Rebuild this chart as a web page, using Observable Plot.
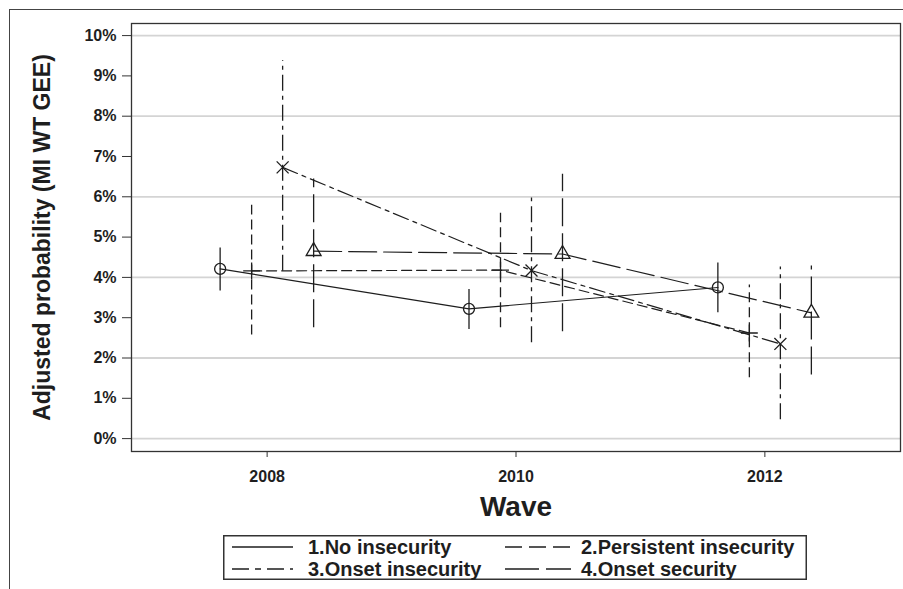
<!DOCTYPE html>
<html><head><meta charset="utf-8">
<script src="https://cdn.jsdelivr.net/npm/d3@7"></script>
<script src="https://cdn.jsdelivr.net/npm/@observablehq/plot@0.6"></script>
<style>
body{margin:0;background:#fff;}
#wrap{position:relative;width:903px;height:589px;overflow:hidden;font-family:"Liberation Sans",Arial,sans-serif;}
#outer{position:absolute;left:9px;top:9px;right:-5px;bottom:-5px;border-left:1.5px solid #444;border-top:1.5px solid #444;}
#chart{position:absolute;left:0;top:0;}
#legend{position:absolute;left:223px;top:535px;}
</style></head><body>
<div id="wrap"><div id="outer"></div><div id="chart"></div><div id="legend"></div></div>
<script>
// ---- data ----
const waves = [2008, 2010, 2012];
const groups = ["1.No insecurity", "2.Persistent insecurity", "3.Onset insecurity", "4.Onset security"];
const estimates = [
  [4.21, 3.22, 3.75],
  [4.16, 4.18, 2.62],
  [6.73, 4.17, 2.35],
  [4.65, 4.58, 3.12]
];
const lower = [
  [3.66, 2.71, 3.12],
  [2.57, 2.75, 1.51],
  [4.15, 2.38, 0.47],
  [2.75, 2.65, 1.58]
];
const upper = [
  [4.73, 3.70, 4.36],
  [5.79, 5.59, 3.81],
  [9.38, 5.97, 4.26],
  [6.44, 6.56, 4.28]
];
const yTicks = [0, 1, 2, 3, 4, 5, 6, 7, 8, 9, 10];
const gridTicks = [0, 2, 4, 6, 8, 10];
const xTicks = [2008, 2010, 2012];
const yTitle = "Adjusted probability (MI WT GEE)";
const xTitle = "Wave";

// ---- styles ----
const ink = "#1e1e1e";
const symbols = ["circle", "plus", "times", "triangle"];
const dashes = [null, "10,5", "16,5,4,5", "28,7"];
const legendDashes = [null, "17,7", "17,6,6,6", "34,7"];
const offsets = [-47, -15.5, 15.5, 46.5];

const rows = groups.map((g, i) => waves.map((w, j) => ({
  group: g, wave: w, est: estimates[i][j], lo: lower[i][j], hi: upper[i][j]
})));

const groupMarks = rows.flatMap((data, i) => [
  Plot.ruleX(data, {x: "wave", y1: "lo", y2: "hi", dx: offsets[i], stroke: ink, strokeWidth: 1.3, strokeDasharray: dashes[i]}),
  Plot.line(data, {x: "wave", y: "est", dx: offsets[i], stroke: ink, strokeWidth: 1.2, strokeDasharray: dashes[i]}),
  Plot.dot(data, {x: "wave", y: "est", dx: offsets[i], symbol: symbols[i], r: 5.5, stroke: ink, strokeWidth: 1.3, fill: "none"})
]);

const chart = Plot.plot({
  width: 903, height: 525,
  marginLeft: 131, marginRight: 3, marginTop: 23, marginBottom: 74,
  style: {fontFamily: "'Liberation Sans', Arial, sans-serif", fontWeight: "bold", color: ink, background: "transparent", overflow: "visible"},
  x: {domain: [2006.91, 2013.09]},
  y: {domain: [-0.32, 10.3]},
  marks: [
    Plot.gridY(gridTicks, {stroke: "#d4d4d4", strokeOpacity: 1, strokeWidth: 1.8}),
    Plot.frame({stroke: "#333", strokeWidth: 1.3}),
    Plot.axisY(yTicks, {tickFormat: d => d + "%", tickSize: 9, tickPadding: 6, fontSize: 16, label: null, stroke: "#333"}),
    Plot.axisX(xTicks, {tickFormat: d => String(d), tickSize: 6, tickPadding: 13, fontSize: 16, label: null, stroke: "#333"}),
    ...groupMarks,
    Plot.text([yTitle], {frameAnchor: "left", dx: -89, rotate: -90, textAnchor: "middle", lineAnchor: "middle", fontSize: 23, fontWeight: "bold", fill: ink}),
    Plot.text([xTitle], {frameAnchor: "bottom", dy: 56, textAnchor: "middle", lineAnchor: "middle", fontSize: 28, fontWeight: "bold", fill: ink})
  ]
});
document.getElementById("chart").appendChild(chart);

// ---- legend ----
const ns = "http://www.w3.org/2000/svg";
const lw = 584, lh = 45;
const leg = document.createElementNS(ns, "svg");
leg.setAttribute("width", lw); leg.setAttribute("height", lh);
leg.style.overflow = "visible";
const border = document.createElementNS(ns, "rect");
border.setAttribute("x", 0.75); border.setAttribute("y", 0.75);
border.setAttribute("width", lw - 1.5); border.setAttribute("height", lh - 1.5);
border.setAttribute("fill", "white"); border.setAttribute("stroke", "#333"); border.setAttribute("stroke-width", 1.5);
leg.appendChild(border);
const pos = [[9, 70, 85, 12], [282, 348, 358, 12], [9, 70, 85, 34], [282, 348, 358, 34]];
groups.forEach((g, i) => {
  const [x1, x2, tx, y] = pos[i];
  const ln = document.createElementNS(ns, "line");
  ln.setAttribute("x1", x1); ln.setAttribute("x2", x2);
  ln.setAttribute("y1", y); ln.setAttribute("y2", y);
  ln.setAttribute("stroke", ink); ln.setAttribute("stroke-width", 1.5);
  if (legendDashes[i]) ln.setAttribute("stroke-dasharray", legendDashes[i]);
  leg.appendChild(ln);
  const t = document.createElementNS(ns, "text");
  t.setAttribute("x", tx); t.setAttribute("y", y);
  t.setAttribute("dominant-baseline", "central");
  t.setAttribute("font-family", "'Liberation Sans', Arial, sans-serif");
  t.setAttribute("font-weight", "bold");
  t.setAttribute("font-size", 20);
  t.setAttribute("fill", ink);
  t.textContent = g;
  leg.appendChild(t);
});
document.getElementById("legend").appendChild(leg);
</script>
</body></html>
